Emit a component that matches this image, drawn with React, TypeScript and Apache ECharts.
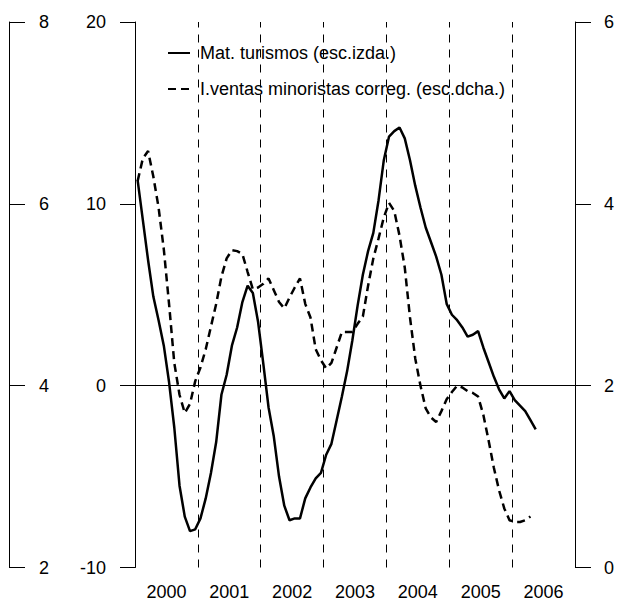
import React, { useEffect, useRef } from "react";
import * as echarts from "echarts";

const startYear = 2000;
const yearLabels = ["2000", "2001", "2002", "2003", "2004", "2005", "2006"];
const yearBoundaries = [2001, 2002, 2003, 2004, 2005, 2006];

const seriesNames = [
  "Mat. turismos (esc.izda.)",
  "I.ventas minoristas correg. (esc.dcha.)",
];

// Monthly values from Jan 2000 (left scale)
const matTurismos = [
  11.3, 9.1, 6.9, 4.9, 3.6, 2.2, 0.2, -2.3, -5.5, -7.2, -8.0, -7.9,
  -7.3, -6.2, -4.8, -3.1, -0.5, 0.6, 2.2, 3.2, 4.6, 5.5, 5.1, 3.5,
  1.2, -1.2, -2.8, -5.0, -6.6, -7.4, -7.3, -7.3, -6.2, -5.6, -5.1, -4.8,
  -3.8, -3.2, -1.9, -0.6, 0.8, 2.5, 4.4, 6.1, 7.4, 8.4, 10.2, 12.4,
  13.7, 14.0, 14.2, 13.6, 12.4, 11.0, 9.8, 8.7, 7.9, 7.1, 6.1, 4.5,
  3.9, 3.6, 3.2, 2.7, 2.8, 3.0, 2.1, 1.3, 0.5, -0.2, -0.7, -0.3,
  -0.8, -1.1, -1.4, -1.9, -2.4,
];

// Monthly values from Jan 2000 (right scale)
const ventasMinoristas = [
  4.25, 4.5, 4.58, 4.3, 3.96, 3.5, 2.9, 2.25, 1.9, 1.7, 1.8, 2.05,
  2.2, 2.4, 2.65, 2.9, 3.2, 3.4, 3.49, 3.48, 3.45, 3.25, 3.06, 3.08,
  3.12, 3.18, 3.05, 2.92, 2.85, 2.97, 3.08, 3.18, 2.9, 2.75, 2.4, 2.28,
  2.19, 2.25, 2.42, 2.59, 2.59, 2.59, 2.68, 2.76, 3.1, 3.4, 3.62, 3.85,
  4.01, 3.92, 3.65, 3.3, 2.75, 2.3, 2.0, 1.75, 1.65, 1.6, 1.72, 1.85,
  1.93, 2.0, 1.98, 1.94, 1.92, 1.88, 1.68, 1.4, 1.1, 0.85, 0.65, 0.52,
  0.5, 0.5, 0.52, 0.56,
];

const toPoints = (arr: number[]) =>
  arr.map((v, i) => [startYear + (i + 0.5) / 12, v]);

const FONT = "'Liberation Sans', Arial, Helvetica, sans-serif";

export default function App() {
  const ref = useRef<HTMLDivElement>(null);

  useEffect(() => {
    document.body.style.margin = "0";
    if (!ref.current) return;
    const chart = echarts.init(ref.current, undefined, { renderer: "svg" });
    const axisText = { color: "#000", fontSize: 18, fontFamily: FONT };
    chart.setOption({
      animation: false,
      backgroundColor: "#fff",
      textStyle: { fontFamily: FONT },
      grid: { left: 135, right: 39, top: 22, bottom: 35.5 },
      legend: {
        orient: "vertical",
        left: 162,
        top: 39,
        itemWidth: 22,
        itemHeight: 14,
        itemGap: 18,
        itemStyle: { opacity: 0 },
        textStyle: { ...axisText, padding: [0, 0, 0, 5] },
        data: seriesNames,
      },
      xAxis: {
        type: "value",
        min: 2000,
        max: 2007,
        interval: 0.5,
        axisLine: { show: true, lineStyle: { color: "#000", width: 1 } },
        axisTick: { show: false },
        splitLine: { show: false },
        axisLabel: {
          ...axisText,
          margin: 15,
          formatter: (v: number) => {
            const idx = Math.round((v - 2000.5) * 1000) / 1000;
            if (Math.abs(idx - Math.round(idx)) < 1e-6) {
              const k = Math.round(idx);
              return yearLabels[k] ?? "";
            }
            return "";
          },
        },
      },
      yAxis: [
        {
          type: "value",
          position: "left",
          min: -10,
          max: 20,
          interval: 10,
          axisLine: { show: true, lineStyle: { color: "#000", width: 1 } },
          axisTick: { show: true, length: 15, lineStyle: { color: "#000" } },
          splitLine: { show: false },
          axisLabel: { ...axisText, margin: 29 },
        },
        {
          type: "value",
          position: "right",
          min: 0,
          max: 6,
          interval: 2,
          axisLine: { show: true, lineStyle: { color: "#000", width: 1 } },
          axisTick: { show: true, length: 16, lineStyle: { color: "#000" } },
          splitLine: { show: false },
          axisLabel: { ...axisText, margin: 29 },
        },
        {
          type: "value",
          position: "left",
          offset: 126,
          min: 2,
          max: 8,
          interval: 2,
          axisLine: { show: true, lineStyle: { color: "#000", width: 1 } },
          axisTick: {
            show: true,
            inside: true,
            length: 16,
            lineStyle: { color: "#000" },
          },
          splitLine: { show: false },
          axisLabel: { ...axisText, inside: true, margin: 30 },
        },
      ],
      series: [
        {
          name: seriesNames[0],
          type: "line",
          yAxisIndex: 0,
          data: toPoints(matTurismos),
          symbol: "none",
          showSymbol: false,
          lineStyle: { color: "#000", width: 2.5, type: "solid" },
          itemStyle: { color: "#000" },
          markLine: {
            silent: true,
            symbol: "none",
            label: { show: false },
            data: [
              {
                yAxis: 0,
                lineStyle: { color: "#000", width: 1, type: "solid" },
              },
              ...yearBoundaries.map((y) => ({
                xAxis: y,
                lineStyle: { color: "#000", width: 1, type: [8, 7] },
              })),
            ],
          },
        },
        {
          name: seriesNames[1],
          type: "line",
          yAxisIndex: 1,
          data: toPoints(ventasMinoristas),
          symbol: "none",
          showSymbol: false,
          lineStyle: { color: "#000", width: 2.5, type: [8, 5] },
          itemStyle: { color: "#000" },
        },
      ],
    });
    return () => chart.dispose();
  }, []);

  return <div ref={ref} style={{ width: 617, height: 603 }} />;
}
